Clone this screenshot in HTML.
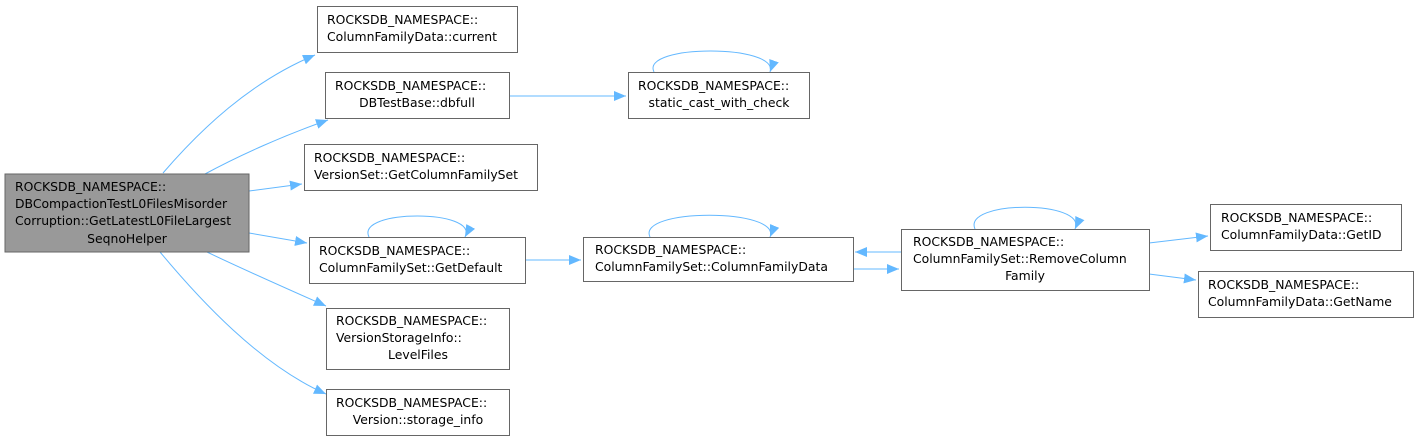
<!DOCTYPE html>
<html><head><meta charset="utf-8"><style>
html,body{margin:0;padding:0;background:#fff;}
svg{display:block;}
text{font-family:"DejaVu Sans","Liberation Sans",sans-serif;font-size:12.4px;fill:#000;}
.b{fill:#fff;stroke:#666;stroke-width:1;}
.e{fill:none;stroke:#63b8ff;stroke-width:1;}
</style></head><body>
<svg width="1419" height="442" viewBox="0 0 1419 442" xmlns="http://www.w3.org/2000/svg">
<defs><marker id="a" viewBox="0 0 12 10" refX="12" refY="5" markerWidth="12" markerHeight="10" markerUnits="userSpaceOnUse" orient="auto"><path d="M0,0 L12,5 L0,10 z" fill="#63b8ff"/></marker></defs>
<path class="e" marker-end="url(#a)" d="M163,173 C200,130 250,82 315,55"/>
<path class="e" marker-end="url(#a)" d="M205,174 C240,155 285,135 328,120"/>
<path class="e" marker-end="url(#a)" d="M249,191 L302,184"/>
<path class="e" marker-end="url(#a)" d="M249,233 L307,243"/>
<path class="e" marker-end="url(#a)" d="M207,252 C240,268 290,290 326,306"/>
<path class="e" marker-end="url(#a)" d="M160,252 C200,300 260,365 326,394"/>
<path class="e" marker-end="url(#a)" d="M509,96 L626,96"/>
<path class="e" marker-end="url(#a)" d="M654,72 C640,44 780,44 770,72"/>
<path class="e" marker-end="url(#a)" d="M525,260 L581,260"/>
<path class="e" marker-end="url(#a)" d="M369,237 C355,209 480,209 465,237"/>
<path class="e" marker-end="url(#a)" d="M650,237 C636,208 782,208 770,237"/>
<path class="e" marker-end="url(#a)" d="M901,252 L855,252"/>
<path class="e" marker-end="url(#a)" d="M853,269 L899,269"/>
<path class="e" marker-end="url(#a)" d="M975,229 C962,200 1088,200 1075,229"/>
<path class="e" marker-end="url(#a)" d="M1149,243 L1208,236"/>
<path class="e" marker-end="url(#a)" d="M1149,274 L1196,280"/>

<rect x="5" y="174" width="244" height="78" fill="#999" stroke="#666"/>
<text x="15" y="191">ROCKSDB_NAMESPACE::</text>
<text x="15" y="208">DBCompactionTestL0FilesMisorder</text>
<text x="15" y="225">Corruption::GetLatestL0FileLargest</text>
<text x="127" y="243" text-anchor="middle">SeqnoHelper</text>

<rect class="b" x="317.5" y="6.5" width="200" height="46"/>
<text x="327" y="24">ROCKSDB_NAMESPACE::</text><text x="327" y="41">ColumnFamilyData::current</text>

<rect class="b" x="325.5" y="72.5" width="184" height="46"/>
<text x="335" y="90">ROCKSDB_NAMESPACE::</text><text x="417" y="107" text-anchor="middle">DBTestBase::dbfull</text>

<rect class="b" x="628.5" y="72.5" width="181" height="46"/>
<text x="638" y="90">ROCKSDB_NAMESPACE::</text><text x="719" y="107" text-anchor="middle">static_cast_with_check</text>

<rect class="b" x="304.5" y="144.5" width="233" height="46"/>
<text x="314" y="162">ROCKSDB_NAMESPACE::</text><text x="314" y="179">VersionSet::GetColumnFamilySet</text>

<rect class="b" x="309.5" y="237.5" width="216" height="46"/>
<text x="319" y="255">ROCKSDB_NAMESPACE::</text><text x="319" y="272">ColumnFamilySet::GetDefault</text>

<rect class="b" x="583.5" y="237.5" width="270" height="44"/>
<text x="595" y="254">ROCKSDB_NAMESPACE::</text><text x="595" y="271">ColumnFamilySet::ColumnFamilyData</text>

<rect class="b" x="901.5" y="229.5" width="248" height="61"/>
<text x="913" y="246">ROCKSDB_NAMESPACE::</text><text x="913" y="263">ColumnFamilySet::RemoveColumn</text><text x="1025" y="280" text-anchor="middle">Family</text>

<rect class="b" x="1210.5" y="204.5" width="191" height="46"/>
<text x="1221" y="222">ROCKSDB_NAMESPACE::</text><text x="1221" y="239">ColumnFamilyData::GetID</text>

<rect class="b" x="1198.5" y="271.5" width="215" height="46"/>
<text x="1208" y="289">ROCKSDB_NAMESPACE::</text><text x="1208" y="306">ColumnFamilyData::GetName</text>

<rect class="b" x="326.5" y="308.5" width="183" height="61"/>
<text x="336" y="325">ROCKSDB_NAMESPACE::</text><text x="336" y="342">VersionStorageInfo::</text><text x="418" y="359" text-anchor="middle">LevelFiles</text>

<rect class="b" x="326.5" y="389.5" width="183" height="46"/>
<text x="336" y="407">ROCKSDB_NAMESPACE::</text><text x="418" y="424" text-anchor="middle">Version::storage_info</text>
</svg>
</body></html>
